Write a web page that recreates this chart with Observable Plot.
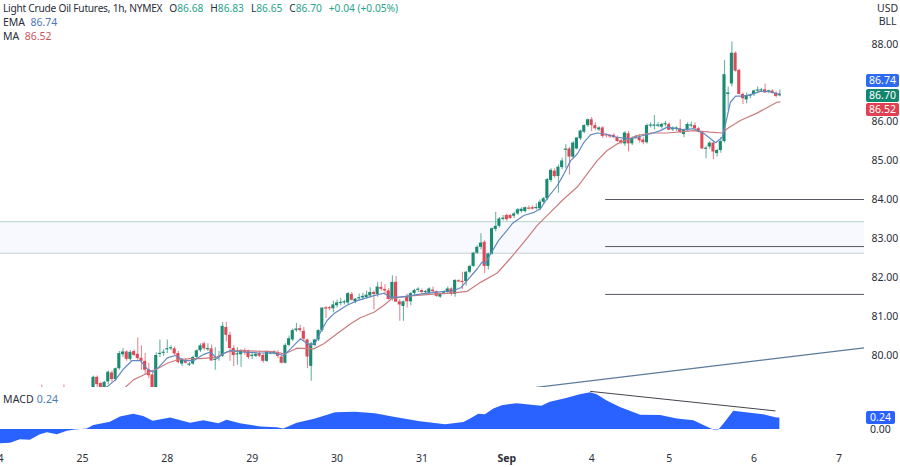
<!DOCTYPE html>
<html>
<head>
<meta charset="utf-8">
<script src="https://cdn.jsdelivr.net/npm/d3@7"></script>
<script src="https://cdn.jsdelivr.net/npm/@observablehq/plot@0.6"></script>
<style>
html,body{margin:0;padding:0;background:#fff;width:900px;height:467px;overflow:hidden;font-family:"Noto Sans",sans-serif;color:#2a2e39}
#wrap{position:relative;width:900px;height:467px}
#wrap svg{display:block}
.lab{position:absolute;font-size:10.5px;line-height:13px;white-space:pre}
.g{color:#2aa38c}.b{color:#4a78b8}.r{color:#c9565f}
.tag{position:absolute;left:866px;width:33px;height:13px;border-radius:2px;color:#fff;font-size:10.5px;line-height:13px;text-align:center}
.head{font-size:10.2px}
.head b{font-weight:normal;letter-spacing:-0.25px}
.head i{font-style:normal;margin-left:7px}
</style>
</head>
<body>
<div id="wrap"></div>
<script>
// Candles: [open, high, low, close], one per hour
const barsBefore = [[79.05,79.24,78.95,79.00],[79.00,79.08,78.90,78.98],[78.98,79.05,78.90,79.00],[79.00,79.06,78.92,78.96],[78.96,79.04,78.90,79.00],[79.00,79.08,78.94,79.02],[79.02,79.24,78.96,79.00],[79.00,79.08,78.92,78.98],[78.98,79.06,78.90,79.02],[79.02,79.10,78.96,79.04],[79.04,79.10,78.96,79.00],[79.00,79.08,78.94,79.04],[79.04,79.12,78.98,79.06],[79.06,79.12,79.00,79.10]];
const barsAug25 = [[79.10,79.47,79.05,79.44],[79.44,79.47,79.15,79.25],[79.28,79.30,79.10,79.15],[79.15,79.33,79.10,79.31],[79.32,79.60,79.25,79.57],[79.55,79.60,79.30,79.38],[79.38,79.68,79.33,79.66],[79.66,80.10,79.62,80.05],[80.02,80.17,79.95,80.09],[80.09,80.12,79.85,79.90],[79.90,80.12,79.85,80.08],[80.10,80.14,79.98,80.00],[80.03,80.45,79.85,79.92],[79.93,80.25,79.62,79.85],[79.85,80.05,79.50,79.62],[79.62,79.80,79.40,79.48],[79.50,79.55,79.00,79.15],[79.15,80.07,79.10,80.00],[80.03,80.40,79.95,80.05],[80.06,80.15,79.98,80.08]];
const barsAug28 = [[80.15,80.40,80.05,80.17],[80.18,80.25,80.12,80.19],[80.17,80.22,80.00,80.04],[80.05,80.10,79.78,79.82],[79.78,79.92,79.72,79.87],[79.87,79.92,79.78,79.80],[79.75,79.82,79.72,79.78],[79.78,79.98,79.75,79.95],[79.95,80.15,79.90,80.12],[80.12,80.30,80.08,80.25],[80.30,80.34,80.12,80.17],[80.15,80.30,80.10,80.18],[80.17,80.27,79.85,79.86],[79.88,80.20,79.62,79.90],[79.95,80.10,79.85,79.97],[79.98,80.85,79.95,80.75],[80.72,80.85,80.35,80.52],[80.52,80.60,79.85,80.18],[80.18,80.25,79.72,80.00],[80.02,80.20,79.75,80.04],[80.02,80.15,79.70,80.12],[80.13,80.17,80.00,80.08],[80.10,80.14,79.90,79.95]];
const barsAug29 = [[79.98,80.08,79.90,80.00],[79.98,80.08,79.95,80.03],[80.05,80.12,79.95,79.98],[80.00,80.05,79.80,79.85],[79.85,80.12,79.82,80.10],[80.05,80.10,80.02,80.06],[80.05,80.12,80.02,80.07],[80.07,80.12,79.93,79.98],[79.96,80.00,79.78,79.80],[79.80,80.30,79.78,80.26],[80.26,80.50,80.22,80.43],[80.40,80.68,80.36,80.64],[80.64,80.82,80.60,80.68],[80.69,80.78,80.60,80.64],[80.62,80.72,80.36,80.42],[80.40,80.42,79.66,79.96],[79.72,80.34,79.34,80.30],[80.26,80.42,80.22,80.40],[80.40,80.66,80.36,80.64],[80.64,81.22,80.60,81.22],[81.22,81.25,80.95,81.20],[81.23,81.26,81.15,81.20],[81.20,81.40,81.10,81.30]];
const barsAug30 = [[81.28,81.42,81.22,81.35],[81.34,81.47,81.28,81.36],[81.36,81.42,81.30,81.37],[81.35,81.62,81.30,81.59],[81.57,81.62,81.40,81.42],[81.38,81.46,81.33,81.45],[81.46,81.58,81.40,81.48],[81.48,81.60,81.42,81.52],[81.49,81.66,81.45,81.55],[81.53,81.74,81.48,81.62],[81.62,81.66,81.17,81.57],[81.57,81.88,81.50,81.76],[81.75,81.88,81.65,81.70],[81.70,81.82,81.58,81.66],[81.66,81.72,81.42,81.44],[81.44,82.05,81.40,81.88],[81.88,82.03,81.38,81.37],[81.38,81.44,80.88,81.30],[81.26,81.40,80.88,81.38],[81.50,81.58,81.22,81.38],[81.38,81.62,81.28,81.59],[81.59,81.70,81.55,81.67],[81.68,81.74,81.62,81.70]];
const barsAug31 = [[81.67,81.70,81.58,81.62],[81.62,81.68,81.58,81.64],[81.60,81.74,81.56,81.71],[81.68,81.76,81.60,81.64],[81.64,81.66,81.50,81.52],[81.50,81.60,81.47,81.59],[81.60,81.66,81.56,81.63],[81.62,81.76,81.58,81.71],[81.71,81.74,81.53,81.57],[81.57,81.95,81.50,81.93],[81.92,81.95,81.88,81.89],[81.90,82.14,81.70,81.88],[81.90,82.16,81.78,82.14],[82.14,82.32,82.10,82.29],[82.29,82.65,82.26,82.63],[82.63,82.82,82.60,82.78],[82.78,83.13,82.72,82.89],[82.91,82.95,82.11,82.29],[82.29,82.63,82.20,82.61],[82.61,83.28,82.58,83.26],[83.24,83.68,83.18,83.32],[83.32,83.55,83.28,83.51],[83.50,83.60,83.46,83.53]];
const barsSep1 = [[83.60,83.64,83.45,83.49],[83.60,83.62,83.50,83.52],[83.58,83.68,83.52,83.64],[83.64,83.78,83.60,83.745],[83.70,83.80,83.66,83.76],[83.70,83.82,83.66,83.80],[83.79,83.84,83.74,83.76],[83.80,83.84,83.74,83.76],[83.78,83.90,83.74,83.80],[83.77,84.00,83.72,83.94],[83.94,84.06,83.90,84.03],[84.03,84.55,83.98,84.52],[84.50,84.80,84.45,84.76],[84.74,84.80,84.55,84.60],[84.60,84.90,84.17,84.84],[84.83,85.07,84.78,85.00],[85.28,85.42,84.80,85.30],[85.31,85.35,84.64,85.10],[85.10,85.50,85.05,85.46],[85.31,85.60,85.28,85.59],[85.57,85.80,85.53,85.77],[85.74,85.93,85.70,85.91],[85.91,86.08,85.86,86.06]];
const barsSep4 = [[86.06,86.12,85.75,85.91],[85.91,85.98,85.78,85.83],[85.80,85.88,85.76,85.85],[85.85,85.88,85.58,85.63],[85.67,85.70,85.60,85.65],[85.66,85.68,85.58,85.62],[85.66,85.70,85.57,85.60],[85.60,85.64,85.48,85.50],[85.52,85.56,85.42,85.47],[85.44,85.75,85.38,85.72],[85.70,85.75,85.23,85.44],[85.44,85.62,85.40,85.57],[85.60,85.66,85.55,85.61],[85.60,85.68,85.46,85.52],[85.54,85.60,85.42,85.47],[85.47,85.95,85.44,85.91],[85.90,85.98,85.85,85.92],[85.90,86.17,85.80,85.92],[85.90,85.98,85.86,85.92],[85.87,85.97,85.82,85.94],[85.93,86.02,85.88,85.96]];
const barsSep5 = [[85.94,85.98,85.79,85.79],[85.80,85.88,85.76,85.84],[85.82,85.88,85.76,85.85],[85.83,86.06,85.70,85.73],[85.68,85.82,85.60,85.80],[85.79,85.98,85.76,85.94],[85.90,86.00,85.85,85.92],[85.91,85.98,85.80,85.83],[85.83,85.86,85.72,85.74],[85.74,85.76,85.29,85.31],[85.30,85.38,85.06,85.33],[85.36,85.50,85.30,85.46],[85.46,85.50,85.03,85.23],[85.19,85.30,85.10,85.27],[85.27,85.60,85.20,85.50],[85.50,87.58,85.46,87.22],[86.71,86.90,86.30,86.75],[86.98,88.06,86.90,87.77],[87.77,87.80,87.28,87.31],[87.33,87.35,86.70,86.71],[86.71,86.75,86.45,86.60],[86.57,86.75,86.47,86.68],[86.66,86.72,86.60,86.69]];
const barsSep6 = [[86.71,86.82,86.66,86.80],[86.80,86.90,86.75,86.82],[86.80,86.87,86.76,86.83],[86.83,86.98,86.74,86.75],[86.78,86.82,86.73,86.80],[86.80,86.83,86.72,86.74],[86.74,86.78,86.62,86.66],[86.68,86.83,86.65,86.70]];
// Moving averages, sampled along the lines: [bar, price]
const emaPoints = [[-0.5,79.0],[3.7,79.2],[6,79.38],[8.2,79.66],[10.5,79.87],[12.7,79.87],[14.5,79.66],[16.2,79.57],[17.7,79.70],[20,79.94],[22.2,80.0],[24.5,79.87],[27.2,79.87],[29.9,80.03],[31.7,80.09],[33.5,79.92],[34.9,80.04],[37.1,80.13],[39.8,80.09],[44.4,80.07],[48.9,80.06],[51.6,80.0],[53.4,80.17],[54.7,80.30],[56.1,80.43],[57.4,80.34],[58.8,80.26],[60.2,80.34],[61.5,80.60],[63.3,80.90],[65.1,81.07],[68.7,81.29],[71.5,81.41],[76,81.54],[78.7,81.60],[80.5,81.50],[83.2,81.50],[85.9,81.54],[89.5,81.59],[93.1,81.63],[97.6,81.67],[99.5,81.74],[101.3,81.93],[104,82.23],[105.3,82.40],[106.2,82.36],[107.6,82.61],[109.8,82.96],[112,83.21],[113.6,83.40],[116.6,83.60],[119.4,83.68],[121.1,83.77],[122.9,84.03],[125.7,84.37],[127.5,84.67],[129.3,85.01],[131.1,85.18],[132.9,85.48],[134.7,85.67],[136.5,85.72],[138.3,85.70],[141.9,85.61],[145.5,85.57],[149,85.655],[151,85.70],[153.6,85.78],[155.5,85.87],[160,85.80],[162.7,85.83],[165.5,85.70],[168.6,85.47],[170.4,85.61],[171.3,85.96],[172.6,86.51],[174,86.67],[175.8,86.67],[178,86.70],[180.7,86.79],[183.4,86.78],[185.7,86.72],[186,86.74]];
const maPoints = [[8,79.1],[8.7,79.19],[10.9,79.38],[13.6,79.50],[16.2,79.62],[17.7,79.68],[20,79.80],[22.7,79.89],[26.3,79.92],[29,79.92],[33.5,79.96],[36.2,80.09],[39.8,80.13],[44.4,80.11],[48.9,80.10],[51.6,80.04],[53.4,80.11],[55.2,80.19],[59.7,80.17],[62.4,80.30],[66,80.56],[69.6,80.81],[72.3,80.97],[76,81.11],[78.7,81.29],[80.8,81.46],[83.2,81.50],[86.8,81.54],[91.3,81.57],[97.6,81.61],[101.3,81.65],[104.9,81.88],[109.4,82.12],[113,82.50],[116.6,82.91],[120.2,83.34],[123.8,83.68],[127.5,84.03],[131.1,84.33],[133.8,84.67],[136.5,85.01],[139.2,85.27],[141.9,85.44],[143.7,85.51],[147.3,85.655],[151,85.72],[155.5,85.72],[162.7,85.78],[167.2,85.74],[170.4,85.72],[171.7,85.83],[175.3,86.04],[179.8,86.23],[182.5,86.37],[185.2,86.51],[186,86.52]];
// MACD histogram outline: [bar, value]
const macdPoints = [[-25.2,-0.30],[-22.5,-0.29],[-19.8,-0.22],[-17.1,-0.23],[-14.4,-0.11],[-12.5,-0.07],[-9.8,-0.11],[-7.1,-0.04],[-4.9,-0.01],[-1.7,0.01],[0.1,0.08],[4.6,0.15],[7.3,0.26],[10.9,0.32],[13.6,0.27],[16.2,0.17],[20.9,0.24],[26.3,0.13],[29.9,0.18],[34,0.12],[36.2,0.19],[39.8,0.12],[45.3,0.05],[49.8,0.035],[51.6,0.01],[55.2,0.13],[60.2,0.22],[65.6,0.35],[71,0.36],[76.4,0.33],[81.8,0.25],[88.6,0.16],[95.4,0.10],[100.4,0.147],[102.2,0.22],[104.4,0.32],[106.2,0.31],[108.5,0.43],[110.8,0.50],[114.8,0.54],[118.8,0.51],[121.5,0.485],[123.8,0.57],[128.2,0.65],[131.9,0.73],[134.7,0.77],[136.5,0.73],[139.2,0.60],[142.8,0.46],[148.3,0.30],[153.7,0.29],[158.2,0.22],[162.7,0.18],[165.4,0.08],[168.1,-0.01],[169.5,-0.01],[170.8,0.11],[173.5,0.38],[178,0.34],[181.6,0.31],[185.2,0.24],[186,0.24]];
// Drawn levels, zone and trend lines
const zoneTop = 83.44, zoneBottom = 82.63;
const levels = [84.01, 82.80, 81.57];
const levelStart = 138.8;
const upperTrend = [[120,79.18],[209.2,80.2]];
const macdTrend = [[134.7,0.80],[184.7,0.39]];
// Axes (the 87.00 label is hidden behind the price tags in the reference)
const priceTicks = [80,81,82,83,84,85,86,88];
const dayTicks = [-26,-3,20,43,66,89,135,156,179,202];
const dayLabels = ["24","25","28","29","30","31","4","5","6","7"];
const monthTick = [112];
const monthLabel = "Sep";

const firstBar = -14;
const candles = [...barsBefore,...barsAug25,...barsAug28,...barsAug29,...barsAug30,...barsAug31,...barsSep1,...barsSep4,...barsSep5,...barsSep6]
  .map(([o,h,l,c],j)=>({i:firstBar+j,o,h,l,c,col:c>=o?"#1a8a73":"#dc4a57"}));
const bodyLo = d => { const m=Math.min(d.o,d.c); return Math.abs(d.o-d.c)<0.03 ? (d.o+d.c)/2-0.015 : m; };
const bodyHi = d => { const m=Math.max(d.o,d.c); return Math.abs(d.o-d.c)<0.03 ? (d.o+d.c)/2+0.015 : m; };
const xDomain = [-25.2, 208.94];
const font = {fontFamily:'"Noto Sans",sans-serif', fontSize:"10.5px", color:"#2a2e39", background:"#fff"};

const price = Plot.plot({
  width:900, height:387, marginLeft:0, marginRight:36, marginTop:0, marginBottom:0,
  style:font,
  x:{domain:xDomain, axis:null},
  y:{domain:[79.177,89.126]},
  marks:[
    Plot.rect([{y1:zoneBottom,y2:zoneTop}],{x1:xDomain[0],x2:xDomain[1],y1:"y1",y2:"y2",fill:"#f7f9fe"}),
    Plot.ruleY([zoneTop],{stroke:"#b9d3c9",strokeWidth:1}),
    Plot.ruleY([zoneBottom],{stroke:"#c3ced8",strokeWidth:1}),
    Plot.ruleY(levels,{x1:levelStart,x2:xDomain[1],stroke:"#5a5664",strokeWidth:1}),
    Plot.line(upperTrend,{x:d=>d[0],y:d=>d[1],stroke:"#5b7a9a",strokeWidth:1.2,clip:true}),
    Plot.ruleX(candles,{x:"i",y1:"l",y2:"h",stroke:"col",strokeWidth:1.1,strokeOpacity:0.65,clip:true}),
    Plot.rect(candles,{x1:d=>d.i-0.42,x2:d=>d.i+0.42,y1:bodyLo,y2:bodyHi,fill:"col",clip:true}),
    Plot.line(maPoints,{x:d=>d[0],y:d=>d[1],stroke:"#cc7c80",strokeWidth:1.2,clip:true}),
    Plot.line(emaPoints,{x:d=>d[0],y:d=>d[1],stroke:"#6488c0",strokeWidth:1.2,clip:true}),
    Plot.axisY(priceTicks,{anchor:"right",tickSize:0,tickPadding:7,tickFormat:d=>d.toFixed(2),label:null,fontSize:10.5}),
    Plot.frame({anchor:"bottom",stroke:"#e0e3eb"})
  ]
});

const macd = Plot.plot({
  width:900, height:80, marginLeft:0, marginRight:36, marginTop:0, marginBottom:20,
  style:font,
  x:{domain:xDomain, axis:null},
  y:{domain:[-0.381,0.882], axis:null},
  marks:[
    Plot.areaY(macdPoints,{x:d=>d[0],y:d=>d[1],fill:"#2962ff"}),
    Plot.line(macdTrend,{x:d=>d[0],y:d=>d[1],stroke:"#44454d",strokeWidth:1}),
    Plot.axisX(dayTicks,{anchor:"bottom",tickSize:0,tickPadding:7,tickFormat:(d,k)=>dayLabels[dayTicks.indexOf(d)],label:null,fontSize:10.5}),
    Plot.axisX(monthTick,{anchor:"bottom",tickSize:0,tickPadding:7,tickFormat:()=>monthLabel,label:null,fontWeight:"bold",fontSize:10.5})
  ]
});

const wrap = document.getElementById("wrap");
wrap.append(price, macd);
const add = (cls,css,html)=>{const e=document.createElement("div");e.className=cls;e.style.cssText=css;e.innerHTML=html;wrap.append(e);};
add("lab head","left:3px;top:2px","<b>Light Crude Oil Futures, 1h, NYMEX</b><i>O<span class=g>86.68</span></i><i>H<span class=g>86.83</span></i><i>L<span class=g>86.65</span></i><i>C<span class=g>86.70</span></i><i><span class=g>+0.04 (+0.05%)</span></i>");
add("lab","left:3px;top:16px","EMA  <span class=b>86.74</span>");
add("lab","left:3px;top:30px","MA  <span class=r>86.52</span>");
add("lab","left:3px;top:393px;letter-spacing:0.15px","MACD <span class=b>0.24</span>");
add("lab","left:877px;top:2px;text-align:center","USD\nBLL");
add("tag","top:74px;background:#2f6bf0","86.74");
add("tag","top:89px;background:#11856d","86.70");
add("tag","top:103px;background:#e0404f","86.52");
add("tag","top:411px;width:29px;background:#2962ff","0.24");
add("lab","left:870px;top:424px;line-height:10px","0.00");
</script>
</body>
</html>
